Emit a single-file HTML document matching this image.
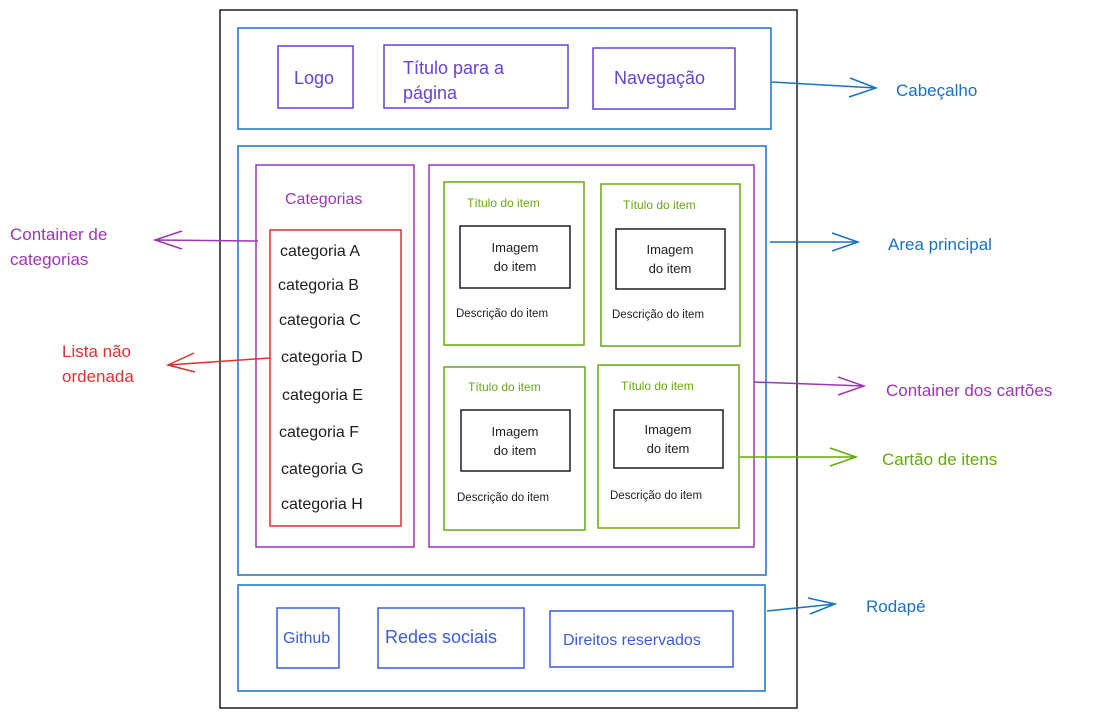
<!DOCTYPE html>
<html><head><meta charset="utf-8"><style>
html,body{margin:0;padding:0;background:#fff;}
svg text{font-family:"Liberation Sans",sans-serif;}
</style></head><body>
<svg width="1116" height="718" viewBox="0 0 1116 718" xmlns="http://www.w3.org/2000/svg">
<g fill="none" stroke-width="1.5">
<rect x="220" y="10" width="577" height="698" stroke="#1e1e1e"/>
<rect x="238" y="28" width="533" height="101" stroke="#1971c2"/>
<rect x="278" y="46" width="75" height="62" stroke="#6741d9"/>
<rect x="384" y="45" width="184" height="63" stroke="#6741d9"/>
<rect x="593" y="48" width="142" height="61" stroke="#6741d9"/>
<rect x="238" y="146" width="528" height="429" stroke="#1971c2"/>
<rect x="256" y="165" width="158" height="382" stroke="#9c36b5"/>
<rect x="270" y="230" width="131" height="296" stroke="#e03131"/>
<rect x="429" y="165" width="325" height="382" stroke="#9c36b5"/>
<rect x="444" y="182" width="140" height="163" stroke="#66a80f"/>
<rect x="601" y="184" width="139" height="162" stroke="#66a80f"/>
<rect x="444" y="367" width="141" height="163" stroke="#66a80f"/>
<rect x="598" y="365" width="141" height="163" stroke="#66a80f"/>
<rect x="460" y="226" width="110" height="62" stroke="#1e1e1e"/>
<rect x="616" y="229" width="109" height="60" stroke="#1e1e1e"/>
<rect x="461" y="410" width="109" height="61" stroke="#1e1e1e"/>
<rect x="614" y="410" width="109" height="58" stroke="#1e1e1e"/>
<rect x="238" y="585" width="527" height="106" stroke="#1971c2"/>
<rect x="277" y="608" width="62" height="60" stroke="#3b5bdb"/>
<rect x="378" y="608" width="146" height="60" stroke="#3b5bdb"/>
<rect x="550" y="611" width="183" height="56" stroke="#3b5bdb"/>
<!-- arrows -->
<g stroke="#1971c2">
<path d="M772 82 L876 88 M850 78 L876 88 L849 97"/>
<path d="M770 242 L858 242 M832 233 L858 242 L832 251"/>
<path d="M767 611 L835 604 M808 598 L835 604 L810 614"/>
</g>
<g stroke="#9c36b5">
<path d="M754 382 L864 386 M838 377 L864 386 L838 395"/>
<path d="M258 241 L155 240 M182 231 L155 240 L182 249"/>
</g>
<path d="M740 457 L856 457 M830 448 L856 457 L830 466" stroke="#66a80f"/>
<path d="M270 358 L168 365 M194 353 L168 365 L195 372" stroke="#e03131"/>
</g>
<g font-size="18" fill="#6741d9">
<text x="294" y="84">Logo</text>
<text x="403" y="74">Título para a</text>
<text x="403" y="99">página</text>
<text x="614" y="84">Navegação</text>
</g>
<g font-size="16" fill="#9c36b5">
<text x="285" y="204">Categorias</text>
</g>
<g font-size="16" fill="#1e1e1e">
<text x="280" y="256">categoria A</text>
<text x="278" y="290">categoria B</text>
<text x="279" y="325">categoria C</text>
<text x="281" y="362">categoria D</text>
<text x="282" y="400">categoria E</text>
<text x="279" y="437">categoria F</text>
<text x="281" y="474">categoria G</text>
<text x="281" y="509">categoria H</text>
</g>
<g font-size="12" fill="#66a80f">
<text x="467" y="207">Título do item</text>
<text x="623" y="209">Título do item</text>
<text x="468" y="391">Título do item</text>
<text x="621" y="390">Título do item</text>
</g>
<g font-size="13" fill="#1e1e1e" text-anchor="middle">
<text x="515" y="252">Imagem</text><text x="515" y="271">do item</text>
<text x="670" y="254">Imagem</text><text x="670" y="273">do item</text>
<text x="515" y="436">Imagem</text><text x="515" y="455">do item</text>
<text x="668" y="434">Imagem</text><text x="668" y="453">do item</text>
</g>
<g font-size="11.5" fill="#1e1e1e">
<text x="456" y="317">Descrição do item</text>
<text x="612" y="318">Descrição do item</text>
<text x="457" y="501">Descrição do item</text>
<text x="610" y="499">Descrição do item</text>
</g>
<g font-size="16" fill="#3b5bdb">
<text x="283" y="643">Github</text>
<text x="385" y="643" font-size="18">Redes sociais</text>
<text x="563" y="645">Direitos reservados</text>
</g>
<g font-size="17">
<text x="896" y="96" fill="#1971c2">Cabeçalho</text>
<text x="888" y="250" fill="#1971c2">Area principal</text>
<text x="866" y="612" fill="#1971c2">Rodapé</text>
<text x="886" y="396" fill="#9c36b5">Container dos cartões</text>
<text x="882" y="465" fill="#66a80f">Cartão de itens</text>
<text x="10" y="240" fill="#9c36b5">Container de</text>
<text x="10" y="265" fill="#9c36b5">categorias</text>
<text x="62" y="357" fill="#e03131">Lista não</text>
<text x="62" y="382" fill="#e03131">ordenada</text>
</g>
</svg>
</body></html>
